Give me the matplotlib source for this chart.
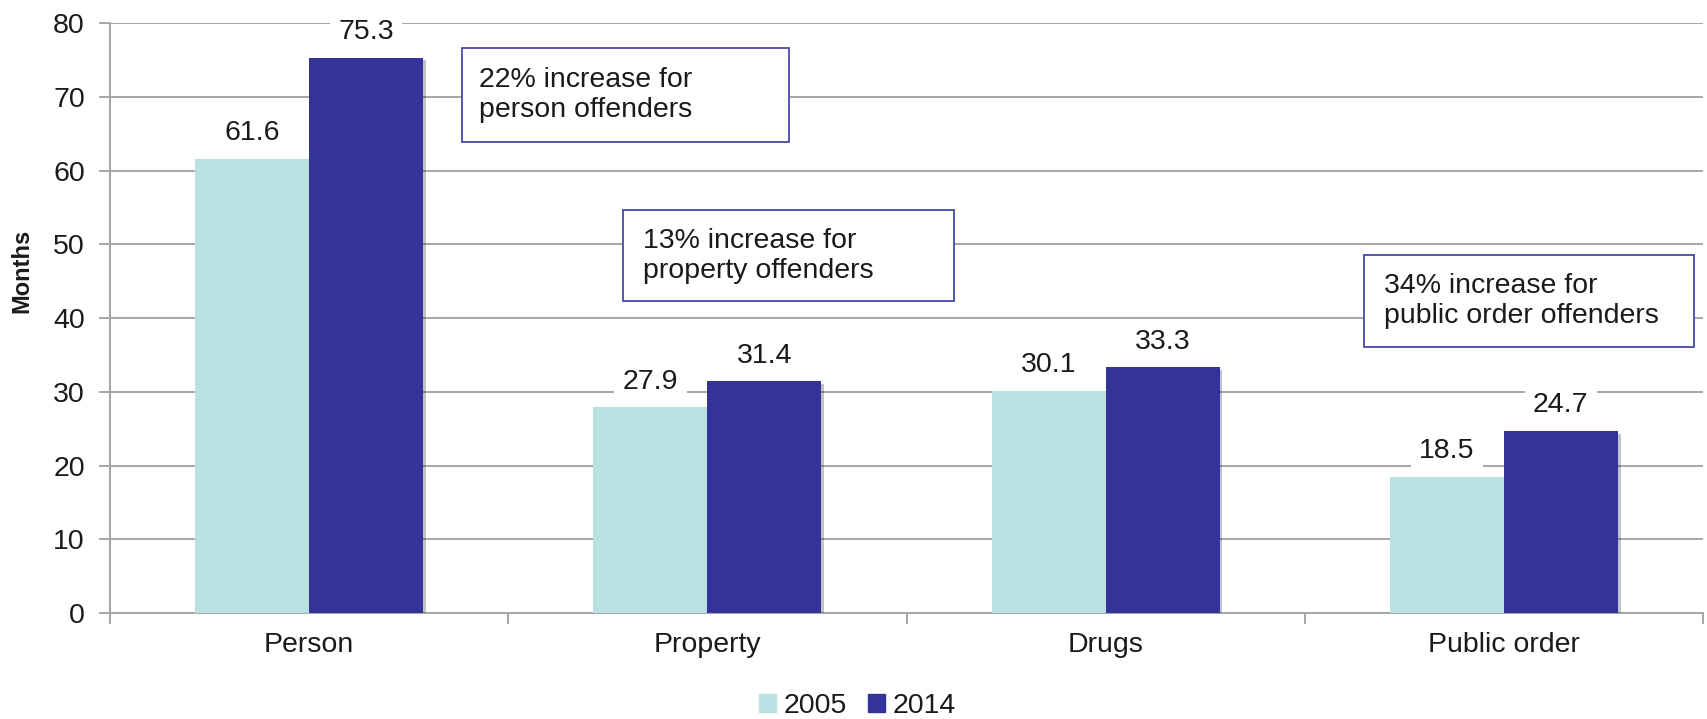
import numpy as np
import matplotlib
matplotlib.use('Agg')
import matplotlib.pyplot as plt
from matplotlib.patches import Rectangle, Patch
import matplotlib.patheffects as pe

# data
categories = ['Person', 'Property', 'Drugs', 'Public order']
years = ['2005', '2014']
months_2005 = [61.6, 27.9, 30.1, 18.5]
months_2014 = [75.3, 31.4, 33.3, 24.7]
notes = ['22% increase for\nperson offenders',
         '13% increase for\nproperty offenders',
         '34% increase for\npublic order offenders']

# note boxes: x0, y0, width, height (data units), text x
note_boxes = [(0.384, 63.9, 0.820, 12.7, 0.427),
              (0.789, 42.3, 0.829, 12.3, 0.839),
              (2.648, 36.1, 0.829, 12.4, 2.698)]

c05 = '#bbe0e1'
c14 = '#333399'
grid_c = '#a6a6a6'
txt_c = '#1a1a1a'
fs = 20.5

plt.rcParams['font.family'] = ['Liberation Sans', 'DejaVu Sans']

fig = plt.figure(figsize=(17.08, 7.19), dpi=100)
ax = fig.add_axes([0.0644, 0.1474, 0.9327, 0.8206])

x = np.arange(len(categories))
w = 0.286
shadow = [pe.SimplePatchShadow(offset=(2, -2), alpha=0.25), pe.Normal()]
b1 = ax.bar(x - w / 2, months_2005, w, color=c05, zorder=3, path_effects=shadow)
b2 = ax.bar(x + w / 2, months_2014, w, color=c14, zorder=3, path_effects=shadow)

for bars, vals in ((b1, months_2005), (b2, months_2014)):
    for b, v in zip(bars, vals):
        ax.annotate('%.1f' % v, (b.get_x() + b.get_width() / 2, v),
                    xytext=(0, 13.5), textcoords='offset points',
                    ha='center', va='baseline', fontsize=fs, color=txt_c, zorder=4,
                    bbox=dict(boxstyle='square,pad=0.3', fc='white', ec='none'))

for (x0, y0, bw, bh, tx), note in zip(note_boxes, notes):
    ax.add_patch(Rectangle((x0, y0), bw, bh, fc='white', ec='#4a4aa8', lw=1.3, zorder=5))
    ax.text(tx, y0 + bh / 2, note, ha='left', va='center', fontsize=fs,
            color=txt_c, linespacing=1.2, zorder=6)

ax.set_xlim(-0.5, 3.5)
ax.set_ylim(0, 80)
ax.set_yticks(np.arange(0, 81, 10))
ax.yaxis.grid(True, color=grid_c, lw=1.4, zorder=0)
ax.set_axisbelow(True)

ax.set_xticks(np.arange(-0.5, 4, 1))
ax.set_xticklabels([])
ax.set_xticks(x, minor=True)
ax.set_xticklabels(categories, minor=True, fontsize=fs, color=txt_c)
ax.tick_params(axis='x', which='minor', length=0, pad=14)
ax.tick_params(axis='x', which='major', length=8, width=1.4, color=grid_c)
ax.tick_params(axis='y', length=8, width=1.4, color=grid_c, labelsize=fs,
               labelcolor=txt_c, pad=10)

for s in ['top', 'right']:
    ax.spines[s].set_visible(False)
for s in ['left', 'bottom']:
    ax.spines[s].set_color(grid_c)
    ax.spines[s].set_linewidth(1.4)

ax.set_ylabel('Months', fontsize=17, fontweight='bold', color=txt_c)
ax.yaxis.set_label_coords(-0.048, 0.58)

handles = [Patch(color=c05), Patch(color=c14)]
fig.legend(handles, years, loc='center', bbox_to_anchor=(0.502, 0.018), ncol=2,
           frameon=False, fontsize=fs, handlelength=0.6, handleheight=0.6,
           handletextpad=0.25, columnspacing=0.75, labelcolor=txt_c)

fig.savefig('out.png', dpi=100)
